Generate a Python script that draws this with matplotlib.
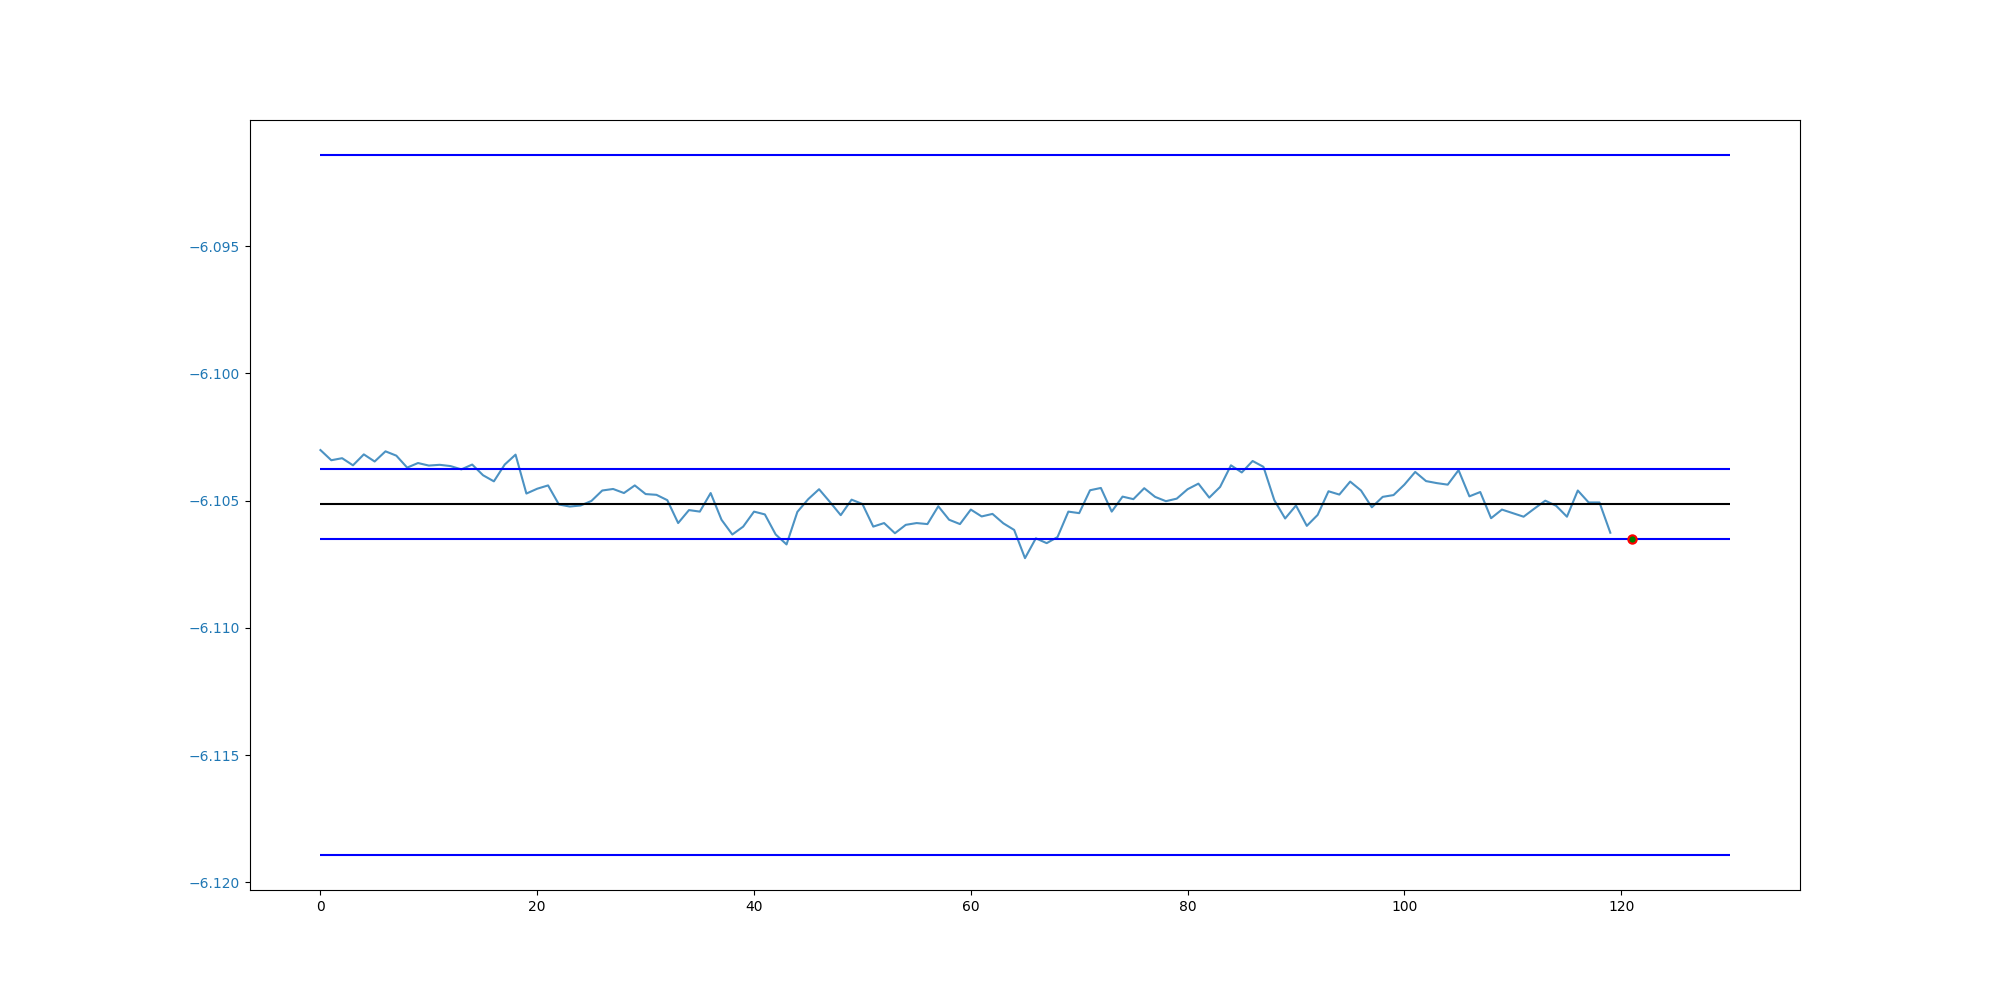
import matplotlib
matplotlib.use("Agg")
import matplotlib.pyplot as plt

# series (index 0..119)
values = [
    -6.10301, -6.10341, -6.10333, -6.10361, -6.10318, -6.10346, -6.10306, -6.10323, -6.10370, -6.10352,
    -6.10362, -6.10359, -6.10364, -6.10377, -6.10358, -6.10400, -6.10424, -6.10358, -6.10319, -6.10472,
    -6.10453, -6.10440, -6.10515, -6.10523, -6.10519, -6.10501, -6.10460, -6.10454, -6.10470, -6.10440,
    -6.10474, -6.10477, -6.10498, -6.10588, -6.10537, -6.10543, -6.10470, -6.10575, -6.10633, -6.10602,
    -6.10543, -6.10554, -6.10633, -6.10672, -6.10544, -6.10494, -6.10455, -6.10505, -6.10557, -6.10496,
    -6.10513, -6.10602, -6.10588, -6.10628, -6.10595, -6.10588, -6.10592, -6.10522, -6.10575, -6.10592,
    -6.10535, -6.10562, -6.10552, -6.10589, -6.10615, -6.10726, -6.10648, -6.10667, -6.10643, -6.10543,
    -6.10549, -6.10459, -6.10450, -6.10543, -6.10484, -6.10494, -6.10451, -6.10485, -6.10502, -6.10492,
    -6.10455, -6.10433, -6.10488, -6.10446, -6.10361, -6.10389, -6.10344, -6.10367, -6.10498, -6.10570,
    -6.10519, -6.10599, -6.10556, -6.10463, -6.10476, -6.10425, -6.10460, -6.10526, -6.10485, -6.10478,
    -6.10437, -6.10387, -6.10423, -6.10431, -6.10437, -6.10380, -6.10483, -6.10466, -6.10569, -6.10535,
    -6.10549, -6.10563, -6.10531, -6.10500, -6.10520, -6.10563, -6.10460, -6.10507, -6.10507, -6.10626,
]
steps = list(range(len(values)))

center = -6.10514
inner = [-6.10377, -6.10651]
outer = [-6.09141, -6.11893]
line_span = [0, 130]
marker_x = 121
marker_y = -6.10651

fig, ax = plt.subplots(figsize=(20, 10), dpi=100)

ax.plot(steps, values, color="tab:blue", alpha=0.8)
ax.hlines(center, line_span[0], line_span[1], colors="black")
ax.hlines(inner, line_span[0], line_span[1], colors="blue")
ax.hlines(outer, line_span[0], line_span[1], colors="blue")
ax.scatter([marker_x], [marker_y], color="green", edgecolors="red", linewidths=1.5, zorder=3)

ax.tick_params(axis="y", labelcolor="tab:blue")

fig.savefig("out.png")
